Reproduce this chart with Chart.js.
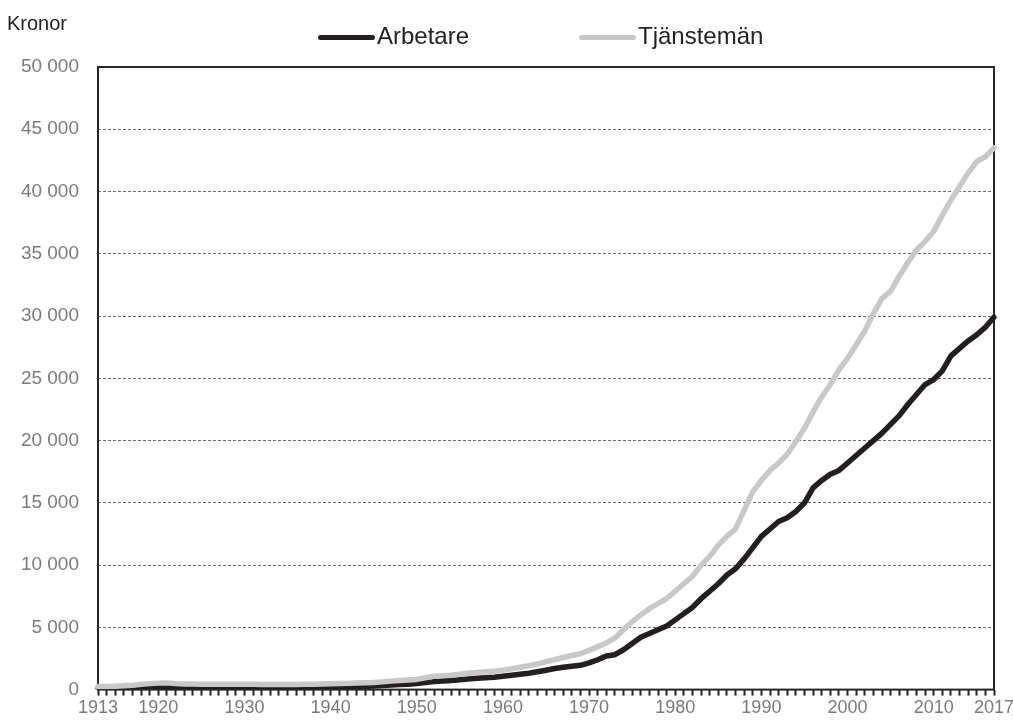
<!DOCTYPE html>
<html>
<head>
<meta charset="utf-8">
<script src="https://cdn.jsdelivr.net/npm/chart.js@4"></script>
<style>
  body { margin: 0; background: #fff; font-family: "Liberation Sans", Arial, sans-serif; }
  #wrap { position: relative; width: 1013px; height: 720px; }
  #unit { position: absolute; left: 7px; top: 13px; font-size: 20px; line-height: 20px; color: #222; }
  .leg { position: absolute; top: 24px; font-size: 24px; line-height: 24px; color: #222; white-space: nowrap; }
  .swatch { position: absolute; top: 35px; height: 5px; border-radius: 3px; }
</style>
</head>
<body>
<div id="wrap">
  <canvas id="chart" width="1013" height="720"></canvas>
  <div id="unit">Kronor</div>
  <div id="legend"></div>
</div>
<script>
const firstYear = 1913;
const lastYear = 2017;
const years = Array.from({ length: lastYear - firstYear + 1 }, (_, i) => firstYear + i);
const labeledYears = [1913, 1920, 1930, 1940, 1950, 1960, 1970, 1980, 1990, 2000, 2010, 2017];

// Arbetare, kronor per månad
const arbetare = [
    90, 90, 100, 120, 150, 200, 240,
    270, 240, 190, 180, 180, 180, 180, 180, 185, 185,
    185, 180, 175, 170, 170, 175, 180, 185, 195, 200,
    210, 225, 245, 260, 270, 285, 320, 370, 410, 430,
    480, 560, 640, 690, 730, 790, 850, 910, 960, 1000,
    1070, 1150, 1240, 1320, 1430, 1560, 1690, 1800, 1880, 1950,
    2150, 2400, 2700, 2800, 3200, 3700, 4200, 4500, 4800, 5100,
    5600, 6100, 6600, 7300, 7900, 8500, 9200, 9700, 10500, 11400,
    12300, 12900, 13500, 13800, 14300, 15000, 16200, 16800, 17300, 17600,
    18200, 18800, 19400, 20000, 20600, 21300, 22000, 22900, 23700, 24500,
    24900, 25600, 26800, 27400, 28000, 28500, 29100, 29900,
];

// Tjänstemän, kronor per månad
const tjansteman = [
    250, 250, 270, 300, 350, 420, 480,
    520, 540, 480, 450, 440, 430, 430, 430, 430, 430,
    430, 420, 410, 400, 400, 400, 410, 420, 430, 440,
    460, 480, 500, 530, 550, 570, 620, 680, 740, 780,
    820, 950, 1080, 1120, 1150, 1230, 1310, 1380, 1440, 1480,
    1560, 1680, 1800, 1920, 2050, 2250, 2400, 2580, 2740, 2880,
    3150, 3450, 3750, 4150, 4800, 5450, 6000, 6500, 6900, 7300,
    7900, 8500, 9100, 10000, 10700, 11600, 12300, 12900, 14400, 15900,
    16800, 17600, 18200, 18900, 19900, 21000, 22300, 23500, 24500, 25700,
    26600, 27700, 28800, 30200, 31400, 32000, 33200, 34300, 35300, 36000,
    36800, 38100, 39300, 40400, 41500, 42400, 42800, 43500,
];

const series = [
    { label: 'Arbetare', data: arbetare, color: '#231f20', lineLeft: 318, textLeft: 377 },
    { label: 'Tjänstemän', data: tjansteman, color: '#c8c8c8', lineLeft: 579, textLeft: 638 },
];

const axisColor = '#262626';
const tickColor = '#7a7a7a';

const formatKr = (v) => String(v).replace(/\B(?=(\d{3})+(?!\d))/g, ' ');

// frame round the plot area (top and right sides included)
const frame = {
    id: 'frame',
    beforeDatasetsDraw(chart) {
        const { ctx, chartArea: a } = chart;
        ctx.save();
        ctx.strokeStyle = axisColor;
        ctx.lineWidth = 2;
        ctx.strokeRect(a.left, a.top, a.right - a.left, a.bottom - a.top);
        ctx.restore();
    },
};

new Chart(document.getElementById('chart'), {
    type: 'line',
    data: {
        labels: years,
        datasets: series.map((s, i) => ({
            label: s.label,
            data: s.data,
            borderColor: s.color,
            backgroundColor: s.color,
            borderWidth: 5.5,
            pointRadius: 0,
            tension: 0,
            borderJoinStyle: 'round',
            borderCapStyle: 'round',
            order: i === 0 ? 1 : 0,
        })),
    },
    options: {
        responsive: false,
        animation: false,
        devicePixelRatio: 1,
        layout: { padding: { top: 67, right: 19, bottom: 0, left: 0 } },
        plugins: {
            legend: { display: false },
            tooltip: { enabled: false },
        },
        scales: {
            x: {
                type: 'category',
                offset: false,
                border: { display: false },
                grid: {
                    drawOnChartArea: false,
                    drawTicks: true,
                    tickLength: 6,
                    tickWidth: 2,
                    tickColor: axisColor,
                },
                ticks: {
                    autoSkip: false,
                    maxRotation: 0,
                    minRotation: 0,
                    padding: 2,
                    color: tickColor,
                    font: { family: 'Liberation Sans, Arial, sans-serif', size: 18 },
                    callback(value) {
                        const y = years[value];
                        return labeledYears.includes(y) ? String(y) : '';
                    },
                },
                afterFit(scale) {
                    scale.height = 30;
                    scale.paddingRight = 0;
                    scale.paddingLeft = 0;
                },
            },
            y: {
                min: 0,
                max: 50000,
                border: { display: false, dash: [3, 2] },
                grid: {
                    drawTicks: false,
                    color: '#6e6e6e',
                    lineWidth: 1,
                },
                ticks: {
                    stepSize: 5000,
                    padding: 19,
                    color: tickColor,
                    font: { family: 'Liberation Sans, Arial, sans-serif', size: 19 },
                    callback: (v) => formatKr(v),
                },
                afterFit(scale) { scale.width = 98; },
            },
        },
    },
    plugins: [frame],
});

// legend, built from the series
const legend = document.getElementById('legend');
series.forEach((s) => {
    const line = document.createElement('div');
    line.className = 'swatch';
    line.style.left = s.lineLeft + 'px';
    line.style.width = (s.textLeft - s.lineLeft - 2) + 'px';
    line.style.background = s.color;
    legend.appendChild(line);
    const text = document.createElement('div');
    text.className = 'leg';
    text.style.left = s.textLeft + 'px';
    text.textContent = s.label;
    legend.appendChild(text);
});
</script>
</body>
</html>
